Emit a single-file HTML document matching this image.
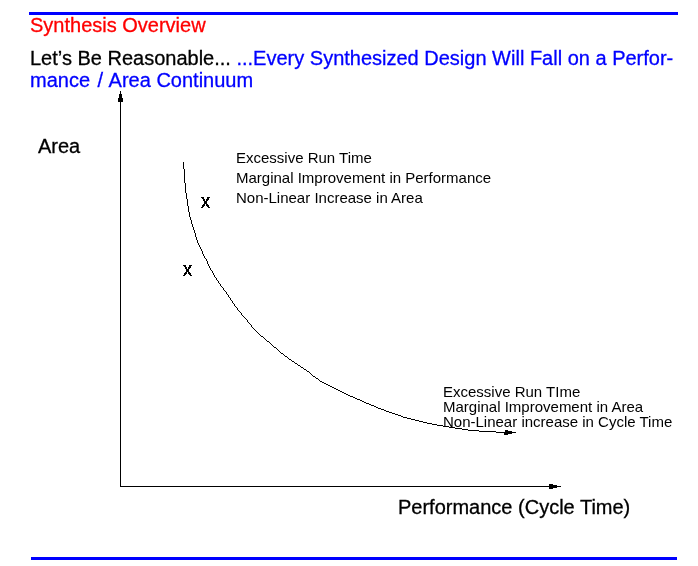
<!DOCTYPE html>
<html><head><meta charset="utf-8"><style>
html,body{margin:0;padding:0;background:#fff;width:698px;height:566px;overflow:hidden}
svg{display:block;will-change:transform}
text{font-family:"Liberation Sans",sans-serif}
</style></head><body>
<svg width="698" height="566" viewBox="0 0 698 566">
<rect x="29" y="12" width="649" height="3" fill="#0000ff"/>
<rect x="31" y="557" width="646" height="3" fill="#0000ff"/>
<text x="30" y="32" font-size="20" fill="#ff0000" stroke="#ff0000" stroke-width="0.3">Synthesis Overview</text>
<text x="30" y="65" font-size="20" fill="#000" stroke="#000" stroke-width="0.3">Let’s Be Reasonable... <tspan fill="#0000ff" stroke="#0000ff">...Every Synthesized Design Will Fall on a Perfor-</tspan></text>
<text x="30" y="87" font-size="20" fill="#0000ff" stroke="#0000ff" stroke-width="0.3">mance <tspan dx="2">/</tspan><tspan dx="1"> Area Continuum</tspan></text>
<text x="38" y="153" font-size="20" fill="#000" stroke="#000" stroke-width="0.3">Area</text>
<text x="398" y="514" font-size="20" fill="#000" stroke="#000" stroke-width="0.3">Performance (Cycle Time)</text>
<g font-size="15" fill="#000">
<text x="236" y="163">Excessive Run Time</text>
<text x="236" y="183">Marginal Improvement in Performance</text>
<text x="236" y="203">Non-Linear Increase in Area</text>
<text x="443" y="397">Excessive Run TIme</text>
<text x="443" y="412">Marginal Improvement in Area</text>
<text x="443" y="427">Non-Linear increase in Cycle Time</text>
</g>
<g shape-rendering="crispEdges" fill="#000">
<rect x="120" y="91" width="1" height="396"/>
<rect x="119" y="94" width="3" height="4"/>
<rect x="118" y="98" width="5" height="4"/>
<rect x="120" y="486" width="441" height="1"/>
<rect x="549" y="484" width="4" height="5"/>
<rect x="553" y="485" width="4" height="3"/>
<rect x="504" y="432" width="1" height="3"/>
<rect x="505" y="430" width="3" height="5"/>
<rect x="508" y="431" width="4" height="3"/>
</g>
<path shape-rendering="crispEdges" fill="#000" d="M183,162h1v1h-1zM183,163h1v1h-1zM183,164h1v1h-1zM183,165h1v1h-1zM183,166h1v1h-1zM183,167h1v1h-1zM183,168h1v1h-1zM184,169h1v1h-1zM184,170h1v1h-1zM184,171h1v1h-1zM184,172h1v1h-1zM184,173h1v1h-1zM184,174h1v1h-1zM184,175h1v1h-1zM184,176h1v1h-1zM184,177h1v1h-1zM184,178h1v1h-1zM184,179h1v1h-1zM184,180h1v1h-1zM184,181h1v1h-1zM184,182h1v1h-1zM185,183h1v1h-1zM185,184h1v1h-1zM185,185h1v1h-1zM185,186h1v1h-1zM185,187h1v1h-1zM185,188h1v1h-1zM185,189h1v1h-1zM185,190h1v1h-1zM185,191h1v1h-1zM185,192h1v1h-1zM186,193h1v1h-1zM186,194h1v1h-1zM186,195h1v1h-1zM186,196h1v1h-1zM186,197h1v1h-1zM186,198h1v1h-1zM187,199h1v1h-1zM187,200h1v1h-1zM187,201h1v1h-1zM187,202h1v1h-1zM187,203h1v1h-1zM187,204h1v1h-1zM187,205h1v1h-1zM188,206h1v1h-1zM188,207h1v1h-1zM188,208h1v1h-1zM188,209h1v1h-1zM188,210h1v1h-1zM188,211h1v1h-1zM189,212h1v1h-1zM189,213h1v1h-1zM189,214h1v1h-1zM189,215h1v1h-1zM189,216h1v1h-1zM190,217h1v1h-1zM190,218h1v1h-1zM190,219h1v1h-1zM191,220h1v1h-1zM191,221h1v1h-1zM191,222h1v1h-1zM191,223h1v1h-1zM192,224h1v1h-1zM192,225h1v1h-1zM192,226h1v1h-1zM193,227h1v1h-1zM193,228h1v1h-1zM193,229h1v1h-1zM194,230h1v1h-1zM194,231h1v1h-1zM194,232h1v1h-1zM195,233h1v1h-1zM195,234h1v1h-1zM195,235h1v1h-1zM195,236h1v1h-1zM196,237h1v1h-1zM196,238h1v1h-1zM196,239h1v1h-1zM197,240h1v1h-1zM197,241h1v1h-1zM197,242h1v1h-1zM198,243h1v1h-1zM198,244h1v1h-1zM199,245h1v1h-1zM199,246h1v1h-1zM200,247h1v1h-1zM200,248h1v1h-1zM201,249h1v1h-1zM201,250h1v1h-1zM202,251h1v1h-1zM202,252h1v1h-1zM202,253h1v1h-1zM203,254h1v1h-1zM203,255h1v1h-1zM204,256h1v1h-1zM204,257h1v1h-1zM205,258h1v1h-1zM206,259h1v1h-1zM206,260h1v1h-1zM207,261h1v1h-1zM207,262h1v1h-1zM207,263h1v1h-1zM208,264h1v1h-1zM208,265h1v1h-1zM209,266h1v1h-1zM209,267h1v1h-1zM210,268h1v1h-1zM210,269h1v1h-1zM211,270h1v1h-1zM212,271h1v1h-1zM212,272h1v1h-1zM213,273h1v1h-1zM213,274h1v1h-1zM214,275h1v1h-1zM214,276h1v1h-1zM215,277h1v1h-1zM216,278h1v1h-1zM216,279h1v1h-1zM217,280h1v1h-1zM218,281h1v1h-1zM218,282h1v1h-1zM219,283h1v1h-1zM220,284h1v1h-1zM220,285h1v1h-1zM221,286h1v1h-1zM222,287h1v1h-1zM223,288h1v1h-1zM223,289h1v1h-1zM224,290h1v1h-1zM225,291h1v1h-1zM226,292h1v1h-1zM226,293h1v1h-1zM227,294h1v1h-1zM228,295h1v1h-1zM228,296h1v1h-1zM229,297h1v1h-1zM230,298h1v1h-1zM230,299h1v1h-1zM231,300h1v1h-1zM232,301h1v1h-1zM232,302h1v1h-1zM233,303h1v1h-1zM234,304h1v1h-1zM234,305h1v1h-1zM235,306h1v1h-1zM236,307h1v1h-1zM237,308h1v1h-1zM237,309h1v1h-1zM238,310h1v1h-1zM239,311h1v1h-1zM240,312h1v1h-1zM241,313h1v1h-1zM241,314h1v1h-1zM242,315h1v1h-1zM243,316h1v1h-1zM244,317h1v1h-1zM245,318h1v1h-1zM246,319h1v1h-1zM247,320h1v1h-1zM247,321h1v1h-1zM248,322h1v1h-1zM249,323h1v1h-1zM250,324h1v1h-1zM251,325h1v1h-1zM251,326h1v1h-1zM252,327h1v1h-1zM253,328h1v1h-1zM254,329h1v1h-1zM255,330h1v1h-1zM256,331h1v1h-1zM257,332h1v1h-1zM258,333h1v1h-1zM259,334h1v1h-1zM260,335h1v1h-1zM261,336h2v1h-2zM263,337h1v1h-1zM264,338h1v1h-1zM265,339h1v1h-1zM266,340h1v1h-1zM267,341h2v1h-2zM269,342h1v1h-1zM270,343h1v1h-1zM271,344h1v1h-1zM272,345h1v1h-1zM273,346h1v1h-1zM274,347h2v1h-2zM276,348h1v1h-1zM277,349h1v1h-1zM278,350h1v1h-1zM279,351h1v1h-1zM280,352h1v1h-1zM281,353h2v1h-2zM283,354h1v1h-1zM284,355h1v1h-1zM285,356h2v1h-2zM287,357h1v1h-1zM288,358h1v1h-1zM289,359h2v1h-2zM291,360h1v1h-1zM292,361h2v1h-2zM294,362h1v1h-1zM295,363h2v1h-2zM297,364h1v1h-1zM298,365h2v1h-2zM300,366h1v1h-1zM301,367h2v1h-2zM303,368h1v1h-1zM304,369h2v1h-2zM306,370h1v1h-1zM307,371h2v1h-2zM309,372h1v1h-1zM310,373h1v1h-1zM311,374h1v1h-1zM312,375h1v1h-1zM313,376h2v1h-2zM315,377h1v1h-1zM316,378h2v1h-2zM318,379h1v1h-1zM319,380h1v1h-1zM320,381h2v1h-2zM322,382h2v1h-2zM324,383h2v1h-2zM326,384h2v1h-2zM328,385h2v1h-2zM330,386h2v1h-2zM332,387h2v1h-2zM334,388h2v1h-2zM336,389h2v1h-2zM338,390h2v1h-2zM340,391h2v1h-2zM342,392h2v1h-2zM344,393h2v1h-2zM346,394h2v1h-2zM348,395h2v1h-2zM350,396h3v1h-3zM353,397h2v1h-2zM355,398h2v1h-2zM357,399h3v1h-3zM360,400h2v1h-2zM362,401h2v1h-2zM364,402h2v1h-2zM366,403h3v1h-3zM369,404h2v1h-2zM371,405h3v1h-3zM374,406h2v1h-2zM376,407h2v1h-2zM378,408h3v1h-3zM381,409h3v1h-3zM384,410h2v1h-2zM386,411h3v1h-3zM389,412h3v1h-3zM392,413h3v1h-3zM395,414h3v1h-3zM398,415h3v1h-3zM401,416h2v1h-2zM403,417h4v1h-4zM407,418h4v1h-4zM411,419h4v1h-4zM415,420h4v1h-4zM419,421h4v1h-4zM423,422h4v1h-4zM427,423h5v1h-5zM432,424h5v1h-5zM437,425h6v1h-6zM443,426h6v1h-6zM449,427h6v1h-6zM455,428h7v1h-7zM462,429h6v1h-6zM468,430h11v1h-11zM479,431h17v1h-17zM496,432h20v1h-20z"/>
<path shape-rendering="crispEdges" fill="#000" d="M201,197h3v1h-3zM207,197h3v1h-3zM202,198h2v1h-2zM207,198h2v1h-2zM203,199h2v1h-2zM206,199h3v1h-3zM203,200h2v1h-2zM206,200h2v1h-2zM204,201h3v1h-3zM204,202h3v1h-3zM204,203h3v1h-3zM203,204h2v1h-2zM206,204h2v1h-2zM202,205h3v1h-3zM206,205h3v1h-3zM202,206h2v1h-2zM207,206h2v1h-2zM201,207h2v1h-2zM208,207h2v1h-2zM183,265h3v1h-3zM189,265h3v1h-3zM184,266h2v1h-2zM189,266h2v1h-2zM185,267h2v1h-2zM188,267h3v1h-3zM185,268h2v1h-2zM188,268h2v1h-2zM186,269h3v1h-3zM186,270h3v1h-3zM186,271h3v1h-3zM185,272h2v1h-2zM188,272h2v1h-2zM184,273h3v1h-3zM188,273h3v1h-3zM184,274h2v1h-2zM189,274h2v1h-2zM183,275h2v1h-2zM190,275h2v1h-2z"/>
</svg>
</body></html>
